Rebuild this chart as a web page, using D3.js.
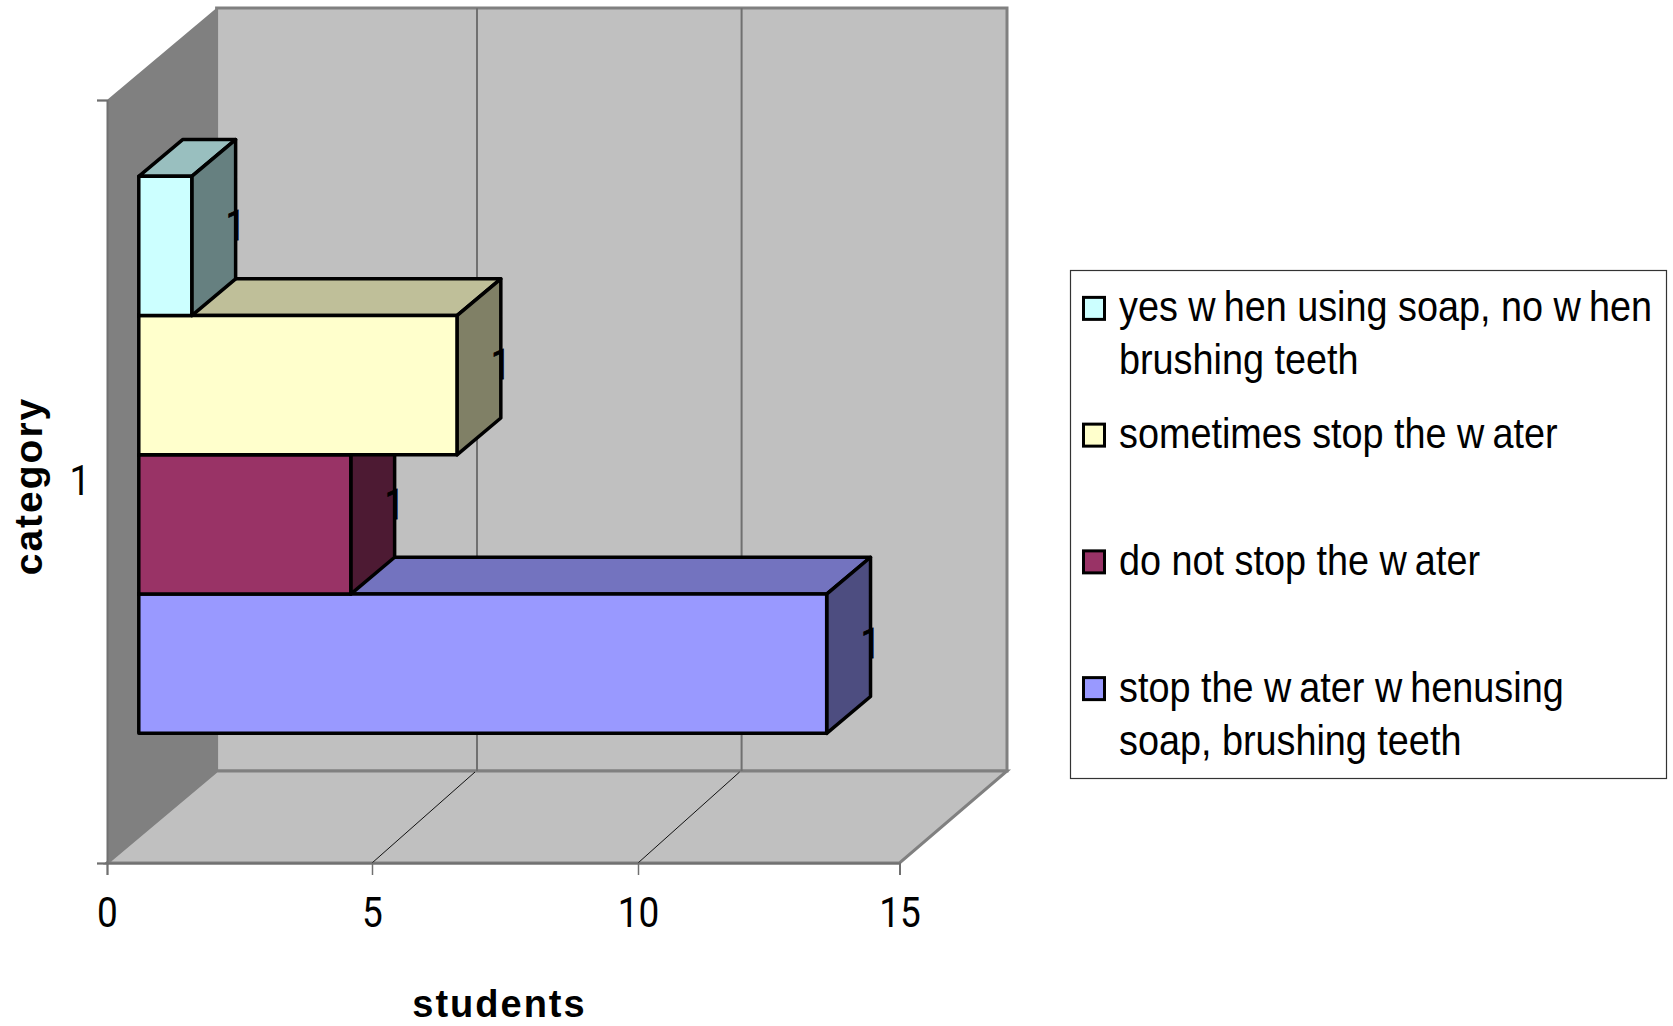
<!DOCTYPE html>
<html>
<head>
<meta charset="utf-8">
<style>
	html,body{margin:0;padding:0;background:#fff;}
	svg{display:block;}
	text{font-family:"Liberation Sans",Arial,sans-serif;fill:#000;}
</style>
<script src="https://cdn.jsdelivr.net/npm/d3@7"></script>
</head>
<body>
<div id="chart"></div>
<script>

const seriesNames = [
	"yes when using soap, no when brushing teeth",
	"sometimes stop the water",
	"do not stop the water",
	"stop the water whenusing soap, brushing teeth"
];
const studentCounts = [1,6,4,13];
const seriesLabels = [1,1,1,1];
const legendLines = [
	["yes when using soap, no when","brushing teeth"],
	["sometimes stop the water"],
	["do not stop the water"],
	["stop the water whenusing","soap, brushing teeth"]
];
const seriesColors = ["#CCFFFF","#FFFFCC","#993366","#9999FF"];
const xTicks = [0,5,10,15];
const categories = ["1"];

const W = 1673;
const H = 1026;

const digitFont = 'Roboto,"Liberation Sans",sans-serif';

// front edge of the floor, back wall, and how far the box recedes
const xFront = d3.scaleLinear().domain(xTicks).range([107,372,638,899.5]);
const xBack = d3.scaleLinear().domain(xTicks).range([216.6,477,741.6,1007]);
const yFront = d3.scaleLinear().domain([0,1]).range([863,100]);
const depthX = 109.6;
const depthY = 92;

const yBars = d3.scaleBand()
	.domain(seriesNames)
	.range([100,863])
	.paddingInner(0)
	.paddingOuter(0.74);

const barNear = 0.29, barFar = 0.69;

const px = (v,d) => xFront(v) + d*depthX;
const py = (y,d) => y - d*depthY;
const poly = pts => pts.map(p => p.join(",")).join(" ");

const shade = (c,k) => {
	const o = d3.rgb(c);
	return d3.rgb(o.r*k,o.g*k,o.b*k).formatHex();
};

const svg = d3.select("#chart")
	.append("svg")
	.attr("width",W)
	.attr("height",H);

// walls
const yTop = yFront(1), yBot = yFront(0);

svg.append("polygon")
	.attr("points",poly([[px(0,0),py(yTop,0)],[px(0,1),py(yTop,1)],[px(0,1),py(yBot,1)],[px(0,0),py(yBot,0)]]))
	.style("fill","#808080");

svg.append("rect")
	.attr("x",xBack(0))
	.attr("y",py(yTop,1))
	.attr("width",xBack(15)-xBack(0))
	.attr("height",yBot-yTop)
	.style("fill","#C0C0C0")
	.style("stroke","#808080")
	.style("stroke-width",3);

svg.append("polygon")
	.attr("points",poly([[px(0,0),yBot],[xBack(0),py(yBot,1)],[xBack(15),py(yBot,1)],[px(15,0),yBot]]))
	.style("fill","#C0C0C0")
	.style("stroke","#808080")
	.style("stroke-width",3);

// grid lines on back wall and floor
const inner = xTicks.slice(1,3);

svg.selectAll(".gridBack")
	.data(inner)
	.enter()
	.append("line")
	.attr("class","gridBack")
	.attr("x1",d => xBack(d))
	.attr("x2",d => xBack(d))
	.attr("y1",py(yTop,1))
	.attr("y2",py(yBot,1))
	.style("stroke","#707070")
	.style("stroke-width",2);

svg.selectAll(".gridFloor")
	.data(inner)
	.enter()
	.append("line")
	.attr("class","gridFloor")
	.attr("x1",d => xFront(d))
	.attr("x2",d => xBack(d)-2)
	.attr("y1",yBot)
	.attr("y2",py(yBot,1)+1)
	.style("stroke","#111")
	.style("stroke-width",1);

// axes
const gx = svg.append("g")
	.attr("transform",`translate(0,${yBot})`)
	.call(d3.axisBottom(xFront).tickValues(xTicks).tickSize(12).tickPadding(14).tickFormat(d3.format("d")));

const gy = svg.append("g")
	.attr("transform",`translate(${px(0,0)},0)`)
	.call(d3.axisLeft(yFront).tickValues([0,1]).tickSize(10).tickFormat(""));

[gx,gy].forEach(g => {
	g.select(".domain").style("stroke","#707070").style("stroke-width",2);
	g.selectAll(".tick line").style("stroke","#707070").style("stroke-width",1.5);
});

gx.selectAll(".tick text")
	.style("font-size","42px")
	.style("font-family",digitFont)
	.attr("y",null)
	.attr("dy",null)
	.attr("transform","translate(0,64) scale(0.88,1)");

svg.selectAll(".category")
	.data(categories)
	.enter()
	.append("text")
	.attr("class","category")
	.attr("transform",`translate(80,${yFront(0.5)+13}) scale(0.88,1)`)
	.attr("text-anchor","middle")
	.style("font-size","42px")
	.style("font-family",digitFont)
	.text(d => d);

// bars, drawn blue first: in the source each row above sits over the top face of the row below
const barOrder = d3.range(seriesNames.length).reverse();

const bars = svg.selectAll(".bar")
	.data(barOrder)
	.enter()
	.append("g")
	.attr("class","bar");

const cuboid = i => {
	const v = studentCounts[i];
	const t = yBars(seriesNames[i]), b = t + yBars.bandwidth();
	return {
		front:[[px(0,barNear),py(t,barNear)],[px(v,barNear),py(t,barNear)],[px(v,barNear),py(b,barNear)],[px(0,barNear),py(b,barNear)]],
		top:[[px(0,barNear),py(t,barNear)],[px(0,barFar),py(t,barFar)],[px(v,barFar),py(t,barFar)],[px(v,barNear),py(t,barNear)]],
		side:[[px(v,barNear),py(t,barNear)],[px(v,barFar),py(t,barFar)],[px(v,barFar),py(b,barFar)],[px(v,barNear),py(b,barNear)]]
	};
};

[["top",0.75],["side",0.5],["front",1]].forEach(([face,k]) => {
	bars.append("polygon")
		.attr("points",i => poly(cuboid(i)[face]))
		.style("fill",i => shade(seriesColors[i],k))
		.style("stroke","#000")
		.style("stroke-width",3.5)
		.style("stroke-linejoin","round");
});

svg.selectAll(".barLabel")
	.data(seriesNames)
	.enter()
	.append("text")
	.attr("class","barLabel")
	.attr("transform",(d,i) => `translate(${px(studentCounts[i],barFar)},${py(yBars(d)+yBars.bandwidth()/2,barFar)+31}) scale(0.83,1)`)
	.attr("text-anchor","middle")
	.style("font-size","42px")
	.style("font-family",digitFont)
	.style("stroke","#000")
	.style("stroke-width",0.8)
	.text((d,i) => seriesLabels[i]);

// axis titles
svg.append("text")
	.attr("x",499.5)
	.attr("y",1017)
	.attr("text-anchor","middle")
	.style("font-size","38px")
	.style("font-weight","bold")
	.style("letter-spacing","2px")
	.text("students");

svg.append("text")
	.attr("transform","translate(42,486) rotate(-90)")
	.attr("text-anchor","middle")
	.style("font-size","39px")
	.style("font-weight","bold")
	.style("letter-spacing","2px")
	.text("category");

// legend
svg.append("rect")
	.attr("x",1070.5)
	.attr("y",270.5)
	.attr("width",596)
	.attr("height",508)
	.style("fill","#fff")
	.style("stroke","#333")
	.style("stroke-width",1.2);

const yLegend = d3.scaleBand()
	.domain(seriesNames)
	.range([245,752]);

const legend = svg.selectAll(".legendItem")
	.data(seriesNames)
	.enter()
	.append("g")
	.attr("class","legendItem")
	.attr("transform",d => `translate(0,${yLegend(d)+yLegend.bandwidth()/2})`);

legend.append("rect")
	.attr("x",1083.5)
	.attr("y",-11)
	.attr("width",21)
	.attr("height",22)
	.style("fill",(d,i) => seriesColors[i])
	.style("stroke","#000")
	.style("stroke-width",3);

// the "w" in the source drawing is followed by a small gap
const writeLine = (sel,line) => {
	line.split(/(?<=w)/).forEach((part,k) => {
		sel.append("tspan").attr("dx",k ? 9 : 0).text(part);
	});
};

legend.each(function(d,i){
	const g = d3.select(this);
	const lines = legendLines[i];
	lines.forEach((line,k) => {
		const t = g.append("text")
			.attr("transform",`translate(1119,${(k === 0 ? 0 : 53) + 13}) scale(0.9,1)`)
			.style("font-size","42px");
		writeLine(t,line);
	});
});

</script>
</body>
</html>
